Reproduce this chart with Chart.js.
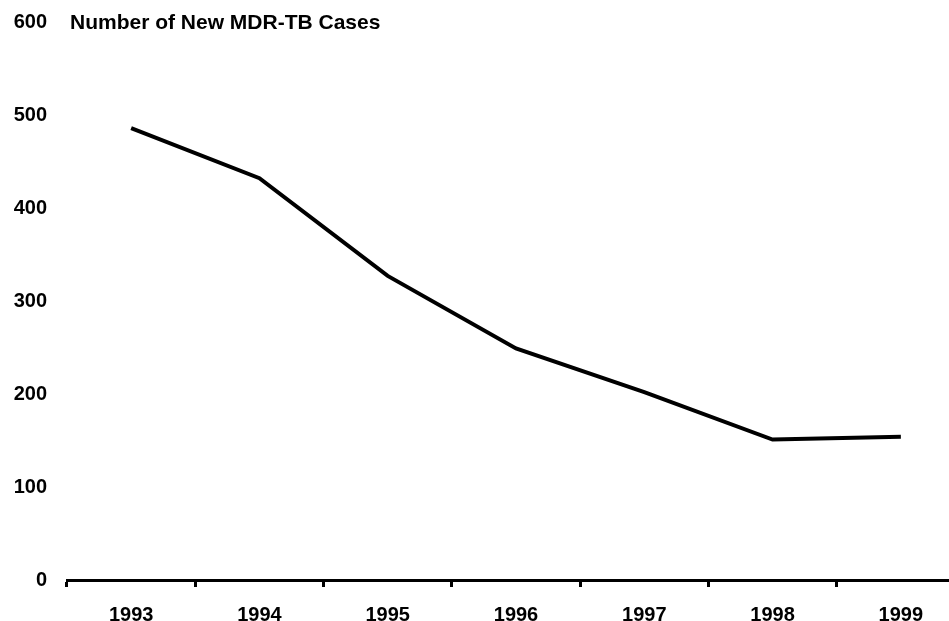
<!DOCTYPE html>
<html>
<head>
<meta charset="utf-8">
<script src="https://cdn.jsdelivr.net/npm/chart.js@4"></script>
<style>
  html, body { margin: 0; padding: 0; background: #fff; overflow: hidden; }
  #wrap { position: relative; width: 966px; height: 621px; }
  #title {
    position: absolute; left: 70px; top: 12px;
    font: bold 21px "Liberation Sans", Arial, sans-serif; line-height: 20px;
    color: #000; white-space: nowrap;
  }
</style>
</head>
<body>
<div id="wrap">
  <canvas id="myChart1"></canvas>
  <div id="title">Number of New MDR-TB Cases</div>
</div>
<script>
// データ
const YEARS = ['1993', '1994', '1995', '1996', '1997', '1998', '1999']
const NEW_CASES = [486, 432, 327, 249, 202, 151, 154]
const Y_TICKS = [0, 100, 200, 300, 400, 500, 600]

const FONT = { family: '"Liberation Sans", Arial, sans-serif', size: 20, weight: 'bold' }

const ctx = document.getElementById('myChart1')
new Chart(ctx, {
    type: 'line',
    data: {
        labels: YEARS,
        datasets: [{
            data: NEW_CASES,
            borderColor: '#000',
            borderWidth: 4,
            pointRadius: 0,
            tension: 0,
            fill: false
        }]
    },
    options: {
        responsive: true,
        maintainAspectRatio: false,
        animation: false,
        layout: { padding: { top: 22, left: 0, right: 1, bottom: 0 } },
        plugins: { legend: { display: false }, tooltip: { enabled: false }, title: { display: false } },
        scales: {
            x: {
                offset: true,
                grid: { offset: true, drawOnChartArea: false, drawTicks: true, tickLength: 7, color: '#000', lineWidth: 3 },
                border: { display: true, color: '#000', width: 3 },
                ticks: { color: '#000', font: FONT, padding: 16, maxRotation: 0, autoSkip: false },
                afterFit: function(scale){ scale.height = 41 }
            },
            y: {
                min: 0,
                max: 600,
                afterBuildTicks: function(scale){ scale.ticks = Y_TICKS.map(v => ({ value: v })) },
                grid: { display: false, drawTicks: false },
                border: { display: false },
                ticks: { color: '#000', font: FONT, padding: 20 },
                // 軸の幅と上下余白を固定する
                afterFit: function(scale){ scale.width = 67; scale.paddingTop = 0; scale.paddingBottom = 0 }
            }
        }
    }
})
</script>
</body>
</html>
